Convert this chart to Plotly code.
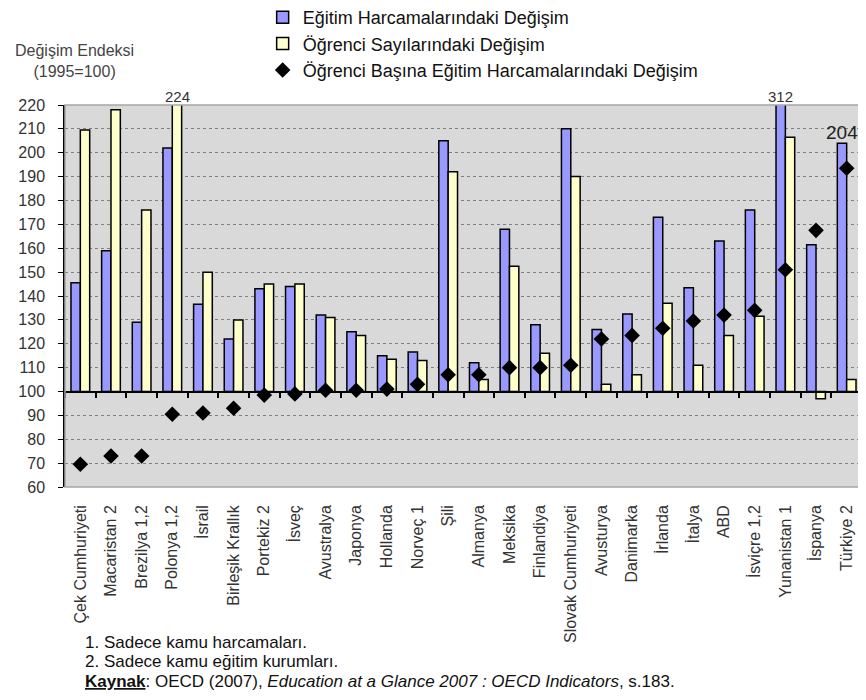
import plotly.graph_objects as go

categories = ["Çek Cumhuriyeti", "Macaristan 2", "Brezilya 1,2", "Polonya 1,2", "İsrail",
              "Birleşik Krallık", "Portekiz 2", "İsveç", "Avustralya", "Japonya", "Hollanda",
              "Norveç 1", "Şili", "Almanya", "Meksika", "Finlandiya", "Slovak Cumhuriyeti",
              "Avusturya", "Danimarka", "İrlanda", "İtalya", "ABD", "İsviçre 1,2",
              "Yunanistan 1", "İspanya", "Türkiye 2"]

harcama = [145.5, 159, 129, 202, 136.5, 122, 143, 144, 132, 125, 115, 116.5, 205, 112, 168,
           128, 210, 126, 132.5, 173, 143.5, 163, 176, 312, 161.5, 204]
ogrenci = [209.5, 218, 176, 224, 150, 130, 145, 145, 131, 123.5, 113.5, 113, 192, 105, 152.5,
           116, 190, 103, 107, 137, 111, 123.5, 131.5, 206.5, 97, 105]
basina = [69.5, 73, 73, 90.5, 91, 93, 98.5, 99, 100.5, 100.5, 101, 103, 107, 107, 110, 110,
          111, 122, 123.5, 126.5, 129.5, 132, 134, 151, 167.5, 193.5]

BASE = 100
YMIN, YMAX = 60, 220
yticks = list(range(60, 221, 10))

labels_out = [("Polonya 1,2", 224, "ogr"), ("Yunanistan 1", 312, "har")]
label_in = ("Türkiye 2", 204)

FONT = "Liberation Sans, Arial, sans-serif"

fig = go.Figure()
fig.add_trace(go.Bar(
    x=categories, y=[v - BASE for v in harcama], base=BASE,
    name="Eğitim Harcamalarındaki Değişim", legendgroup="a",
    marker=dict(color="#9999ff", line=dict(color="#000000", width=1.5)),
))
fig.add_trace(go.Bar(
    x=categories, y=[v - BASE for v in ogrenci], base=BASE,
    name="Öğrenci Sayılarındaki Değişim", legendgroup="b",
    marker=dict(color="#ffffcc", line=dict(color="#000000", width=1.5)),
))
fig.add_trace(go.Scatter(
    x=categories, y=basina, mode="markers", xaxis="x2", legendgroup="c",
    name="Öğrenci Başına Eğitim Harcamalarındaki Değişim",
    marker=dict(symbol="diamond", size=12, color="#000000"),
))

for cat, val, which in labels_out:
    fig.add_annotation(x=cat, y=YMAX, yref="y", xref="x", text=str(val), showarrow=False,
                       yanchor="bottom", xshift=(5 if which == "ogr" else -5), yshift=-2,
                       font=dict(size=15, color="#333333", family=FONT))
fig.add_annotation(x=label_in[0], y=label_in[1], xref="x", yref="y", text=str(label_in[1]),
                   showarrow=False, yanchor="bottom", xshift=-5, yshift=-2,
                   font=dict(size=19, color="#222222", family=FONT))

fig.add_annotation(x=0.0113, y=1.116, xref="paper", yref="paper", xanchor="center",
                   yanchor="middle", showarrow=False, align="center",
                   text="Değişim Endeksi<br>(1995=100)",
                   font=dict(size=16, color="#444444", family=FONT))

foot_font = dict(size=17, color="#111111", family=FONT)
fig.add_annotation(xref="paper", yref="paper", x=0.0226, y=-0.4058, xanchor="left",
                   yanchor="middle", showarrow=False, text="1. Sadece kamu harcamaları.",
                   font=foot_font)
fig.add_annotation(xref="paper", yref="paper", x=0.0226, y=-0.458, xanchor="left",
                   yanchor="middle", showarrow=False, text="2. Sadece kamu eğitim kurumları.",
                   font=foot_font)
fig.add_annotation(xref="paper", yref="paper", x=0.0226, y=-0.508, xanchor="left",
                   yanchor="middle", showarrow=False,
                   text="<b><u>Kaynak</u></b>: OECD (2007), <i>Education at a Glance 2007 : OECD Indicators</i>, s.183.",
                   font=foot_font)

fig.add_shape(type="rect", xref="paper", yref="paper", x0=0, y0=0, x1=1, y1=1,
              line=dict(color="#a6a6a6", width=1.5), layer="above")

fig.update_layout(
    width=858, height=692,
    margin=dict(l=57, r=4, t=97, b=213, autoexpand=False),
    paper_bgcolor="white", plot_bgcolor="#d9d9d9",
    barmode="group", bargap=0.39, bargroupgap=0,
    font=dict(family=FONT, color="#333333"),
    showlegend=True,
    legend=dict(x=0.248, y=1.2775, xanchor="left", yanchor="top", orientation="v",
                font=dict(size=18, color="#111111", family=FONT),
                bgcolor="rgba(0,0,0,0)", tracegroupgap=0, itemwidth=30,
                traceorder="grouped"),
    xaxis=dict(type="category", categoryorder="array", categoryarray=categories,
               tickangle=-90, tickfont=dict(size=16, color="#333333"),
               showgrid=False, showline=False, ticks="", ticklabelstandoff=14,
               range=[-0.5, len(categories) - 0.5]),
    xaxis2=dict(type="category", categoryorder="array", categoryarray=categories,
                overlaying="x", matches="x", anchor="free", position=(BASE - YMIN) / (YMAX - YMIN),
                showline=True, linecolor="#000000", linewidth=2, ticks="outside",
                tickson="boundaries", ticklen=5, tickcolor="#000000", tickwidth=1.5,
                showticklabels=False, showgrid=False, side="bottom"),
    yaxis=dict(range=[YMIN, YMAX], tickvals=yticks, showgrid=True, gridcolor="#7f7f7f",
               griddash="dot", gridwidth=1, zeroline=False, showline=True, linecolor="#000000",
               linewidth=1.5, ticks="outside", ticklen=5, tickcolor="#000000",
               ticklabelstandoff=10, tickfont=dict(size=16, color="#333333")),
)

fig.write_html("out.html")
